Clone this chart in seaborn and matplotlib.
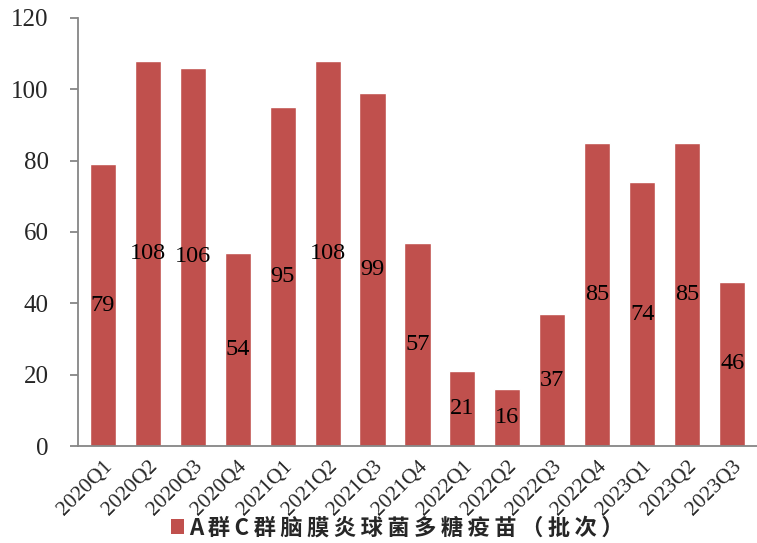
import matplotlib
matplotlib.use("Agg")
import matplotlib.pyplot as plt
import seaborn as sns
import pandas as pd
from matplotlib.patches import Patch

quarters = ["2020Q1", "2020Q2", "2020Q3", "2020Q4", "2021Q1", "2021Q2", "2021Q3", "2021Q4",
            "2022Q1", "2022Q2", "2022Q3", "2022Q4", "2023Q1", "2023Q2", "2023Q3"]
batches = [79, 108, 106, 54, 95, 108, 99, 57, 21, 16, 37, 85, 74, 85, 46]
series_name = "A群C群脑膜炎球菌多糖疫苗（批次）"

df = pd.DataFrame({"quarter": quarters, "value": batches})

sns.set_theme(style="white")
plt.rcParams["font.family"] = ["Liberation Serif", "Noto Sans CJK SC", "DejaVu Sans"]

fig = plt.figure(figsize=(7.57, 5.43), dpi=100)
ax = fig.add_axes([0.103, 0.1786, 0.897, 0.7883])

color = "#C0504D"
sns.barplot(data=df, x="quarter", y="value", color=color, saturation=1, width=0.58, ax=ax)

ax.set_ylim(0, 120)
ax.set_yticks(range(0, 121, 20))
ax.set_xlim(-0.55, len(quarters) - 0.45)
ax.set_xlabel("")
ax.set_ylabel("")

for s in ["top", "right"]:
    ax.spines[s].set_visible(False)
for s in ["left", "bottom"]:
    ax.spines[s].set_color("#868686")
    ax.spines[s].set_linewidth(1.3)

ax.tick_params(axis="y", direction="out", length=6, width=1.3, color="#868686",
               labelsize=18, pad=15, left=True)
ax.tick_params(axis="x", length=0, labelsize=15.5, pad=8)
for lbl in ax.get_yticklabels():
    lbl.set_fontfamily("Liberation Serif")
for lbl in ax.get_xticklabels():
    lbl.set_rotation(45)
    lbl.set_ha("right")
    lbl.set_rotation_mode("anchor")
    lbl.set_fontfamily("Liberation Serif")

for i, v in enumerate(batches):
    ax.text(i, v / 2, str(v), ha="center", va="center", fontsize=17.5,
            fontfamily="Liberation Serif", color="black")

spaced_name = "\u2009".join(series_name)
handle = Patch(facecolor=color, edgecolor="none")
leg = fig.legend([handle], [spaced_name], loc="center", bbox_to_anchor=(0.525, 0.028),
                 frameon=False, handlelength=0.6, handleheight=0.6, handletextpad=0.25,
                 prop={"family": ["Noto Sans CJK SC", "DejaVu Sans"], "weight": "bold", "size": 16})

fig.savefig("out.png", dpi=100)
